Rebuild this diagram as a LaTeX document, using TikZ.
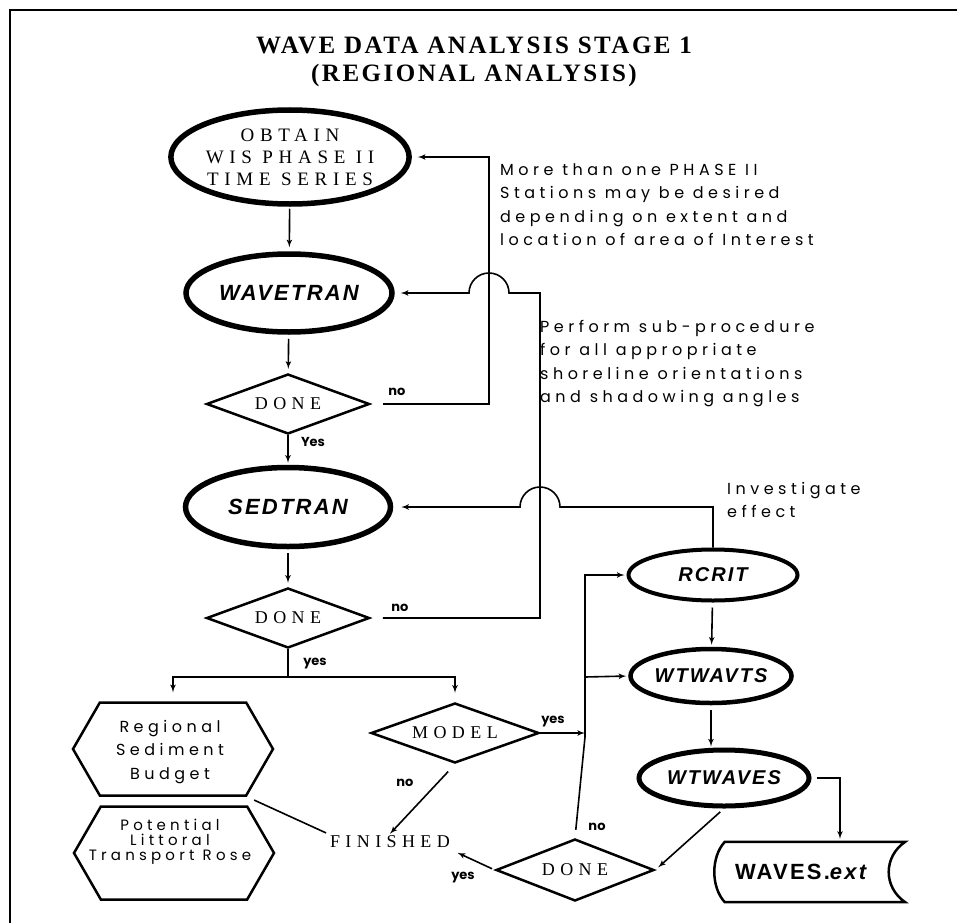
\documentclass[tikz,border=0pt]{standalone}
\usepackage{fontspec}
\usepackage{tikz}
\usetikzlibrary{arrows,shapes.geometric,shapes.symbols}
\newfontfamily\titlefont[LetterSpace=10]{Liberation Serif}
\newfontfamily\thinfont[LetterSpace=30]{Liberation Serif}
\newfontfamily\progfont[LetterSpace=10]{Liberation Sans}
\newfontfamily\notefont[LetterSpace=28]{Poppins}
\newfontfamily\answerfont{Poppins}

\begin{document}
\begin{tikzpicture}[x=1pt,y=-1pt]
\tikzset{prog/.style = {shape=ellipse,draw,line width=5.5pt,inner sep=0pt,font=\progfont\fontsize{22}{24}\selectfont\bfseries\itshape}}
\tikzset{smallprog/.style = {prog,font=\progfont\fontsize{20}{22}\selectfont\bfseries\itshape}}
\tikzset{decision/.style = {shape=diamond,aspect=2.7,draw,line width=2.5pt,inner sep=0pt,minimum width=163pt,minimum height=60pt,font=\thinfont\fontsize{18}{20}\selectfont}}
\tikzset{product/.style = {shape=signal,signal to=east and west,signal pointer angle=120,draw,line width=2.5pt,inner sep=0pt,minimum width=200pt,minimum height=93pt}}
\tikzset{note/.style = {anchor=north west,align=left,inner sep=0pt,font=\notefont\fontsize{16}{23.5}\selectfont}}
\tikzset{answer/.style = {inner sep=0pt,font=\answerfont\fontsize{13}{14}\selectfont\bfseries}}
\tikzset{edge/.style = {->,> = latex',line width=1.6pt}}
\tikzset{wire/.style = {line width=1.6pt}}
\useasboundingbox (0,0) rectangle (957,923);
\draw[line width=2pt] (10,923) -- (10,10) -- (957,10);
\node[font=\titlefont\fontsize{25}{28}\selectfont\bfseries,align=center] (title) at (474,62) {WAVE DATA ANALYSIS STAGE 1\\(REGIONAL ANALYSIS)};
% vertices
\node[prog,minimum width=226pt,minimum height=94pt,align=center,font=\thinfont\fontsize{19}{22}\selectfont] (obtain) at (290,157) {OBTAIN\\WIS PHASE II\\TIME SERIES};
\node[prog,minimum width=206pt,minimum height=78pt] (wavetran) at (289,293) {WAVETRAN};
\node[decision] (done1) at (288,404) {DONE};
\node[prog,minimum width=205pt,minimum height=79pt] (sedtran) at (288,507) {SEDTRAN};
\node[decision] (done2) at (288,618) {DONE};
\node[product] (budget) at (173,749) {};
\node[note,anchor=center,align=center] (budgettext) at (170,752) {Regional\\Sediment\\Budget};
\node[product] (rose) at (174,853) {};
\node[note,anchor=center,align=center,font=\notefont\fontsize{15}{15}\selectfont] (rosetext) at (170,842) {Potential\\Littoral\\Transport Rose};
\node[decision,minimum width=168pt,minimum height=60pt] (model) at (455,733) {MODEL};
\node[inner sep=2pt,font=\thinfont\fontsize{18}{20}\selectfont] (finished) at (390,842) {FINISHED};
\node[decision,minimum width=158pt,minimum height=62pt] (done3) at (575,870) {DONE};
\node[smallprog,line width=4pt,minimum width=169pt,minimum height=51pt] (rcrit) at (713,575) {RCRIT};
\node[smallprog,line width=4.5pt,minimum width=161pt,minimum height=54pt] (wtwavts) at (711,676) {WTWAVTS};
\node[smallprog,line width=5pt,minimum width=170pt,minimum height=56pt] (wtwaves) at (724,778) {WTWAVES};
\node[minimum width=180pt,minimum height=60pt,text width=160pt,align=left,inner sep=0pt,font=\progfont\fontsize{22}{22}\selectfont\bfseries] (wavesext) at (815,872) {WAVES.\textit{ext}};
\draw[line width=2.5pt] (wavesext.north west) -- (wavesext.north east)
  .. controls +(-22,15) and +(-22,-15) .. (wavesext.south east) -- (wavesext.south west)
  .. controls +(-14,-15) and +(-14,15) .. cycle;
% notes
\node[note] (stations) at (500,163) {More than one PHASE II\\Stations may be desired\\depending on extent and\\location of area of Interest};
\node[note] (perform) at (540,320) {Perform sub-procedure\\for all appropriate\\shoreline orientations\\and shadowing angles};
\node[note] (investigate) at (727,482) {Investigate\\effect};
% labels
\node[answer] (no1) at (397,392) {no};
\node[answer] (yes1) at (313,442) {Yes};
\node[answer] (no2) at (400,608) {no};
\node[answer] (yes2) at (315,664) {yes};
\node[answer] (yes3) at (553,722) {yes};
\node[answer] (no3) at (405,783) {no};
\node[answer] (no4) at (597,827) {no};
\node[answer] (yes4) at (463,878) {yes};
%edges
\coordinate (hop1) at (489,157);
\coordinate (hop2) at (540,293);
\coordinate (fork) at (288,677);
\coordinate (bend) at (585,737);
\coordinate (split) at (585,677);
\draw[edge,shorten <=2pt,shorten >=4pt] (obtain) -- (wavetran);
\draw[edge,shorten <=4pt,shorten >=4pt] (wavetran) -- (done1);
\draw[edge,shorten >=2pt] (done1) -- (sedtran);
\draw[edge,shorten <=4pt,shorten >=4pt] (sedtran) -- (done2);
\draw[edge,shorten <=12pt,shorten >=6pt] (done1.east) -| (hop1) -- (obtain.east);
\draw[edge,shorten <=12pt,shorten >=6pt] (done2.east) -| (hop2) -- (509,293) arc (0:-180:20) -- (wavetran.east);
\draw[edge,shorten >=8pt] (rcrit.north) |- (560,507) arc (0:-180:20) -- (sedtran.east);
\draw[wire] (done2.south) -- (fork);
\draw[edge,shorten >=9pt] (fork) -| (budget.north);
\draw[edge,shorten >=9pt] (fork) -| (model.north);
\draw[edge] (model.east) -- (bend |- model.east);
\draw[edge,shorten <=10pt] (model.south) -- (finished.north);
\draw[wire,shorten <=8pt,shorten >=2pt] (budget.south east) -- (finished.north west);
\draw[edge,shorten <=3pt,shorten >=6pt] (done3.west) -- (finished.south east);
\draw[edge,shorten <=8pt,shorten >=2pt] (done3.north) -- (bend) |- (rcrit.west);
\draw[edge,shorten >=2pt] (split) -- (wtwavts.west);
\draw[edge,shorten <=5pt,shorten >=2pt] (rcrit) -- (wtwavts);
\draw[edge,shorten <=5pt,shorten >=1pt] (wtwavts.south) -- (wtwavts.south |- wtwaves.north);
\draw[edge,shorten <=5pt,shorten >=4pt] (wtwaves.south) -- (done3.east);
\draw[edge,shorten <=5pt,shorten >=3pt] (wtwaves.east) -| ([xshift=25pt]wavesext.north);
\end{tikzpicture}
\end{document}
